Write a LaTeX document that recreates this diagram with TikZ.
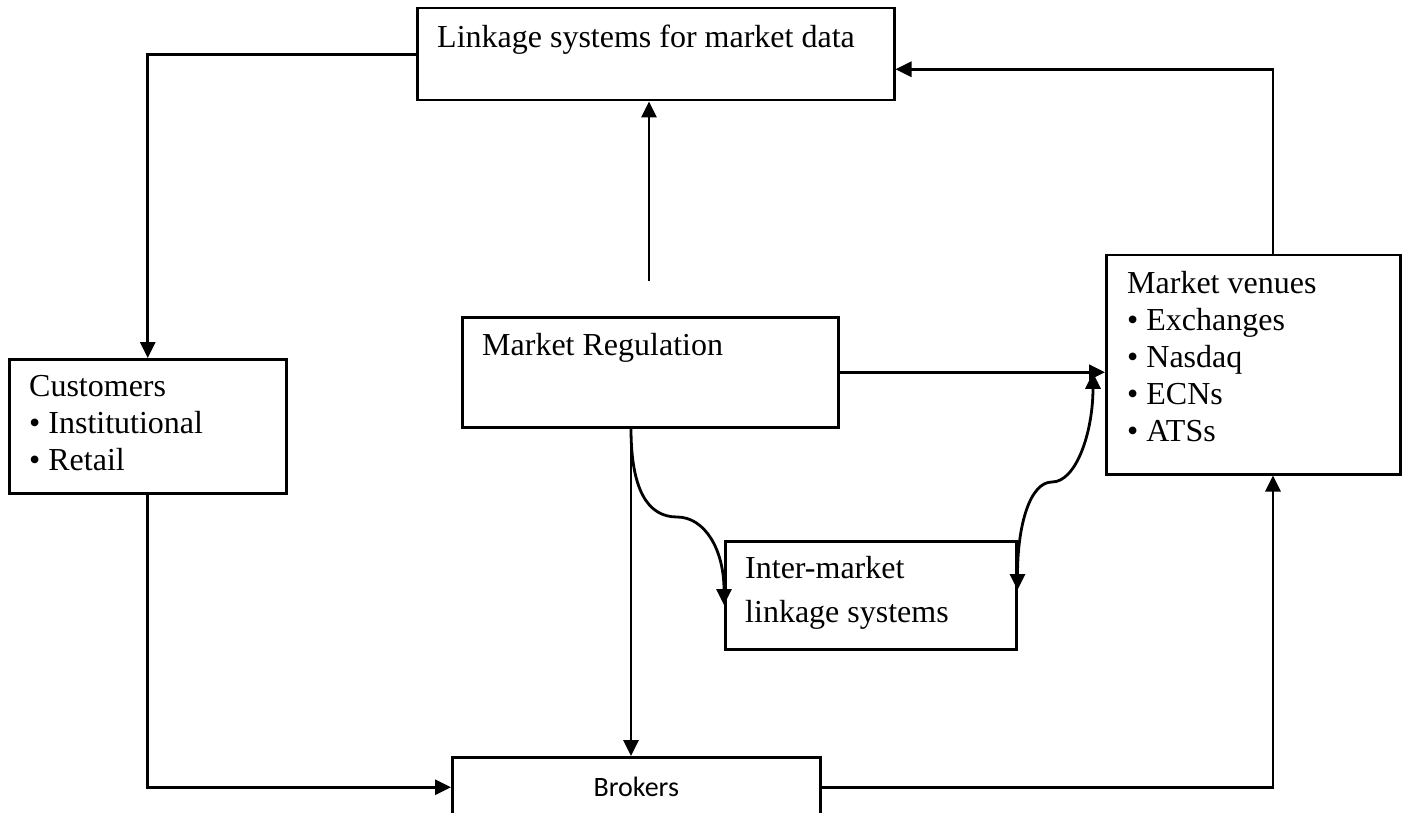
\documentclass[tikz,border=0pt]{standalone}
\usepackage{fontspec}
\setmainfont{Liberation Serif}
\newfontfamily\brokfont{Carlito}
\usetikzlibrary{arrows.meta, positioning, calc}

\begin{document}
\begin{tikzpicture}[x=1pt, y=-1pt, >={Triangle[length=16pt, width=15pt]},
    box/.style={draw, line width=2.5pt, anchor=north west, inner sep=0pt},
    txt/.style={anchor=north west, inner sep=0pt, align=left,
      font=\fontsize{32}{37}\selectfont},
    flow/.style={line width=2.8pt, ->}]
  \useasboundingbox (0,0) rectangle (1406,813);
  \fill[white] (0,0) rectangle (1406,813);

  % boxes
  \node[box, minimum width=477pt, minimum height=92pt] (mdata) at (416,7) {};
  \node[box, minimum width=277pt, minimum height=134pt] (cust) at (8,358) {};
  \node[box, minimum width=376pt, minimum height=110pt] (reg) at (461,316) {};
  \node[box, minimum width=294pt, minimum height=219pt] (venue) at (1105,254) {};
  \node[box, minimum width=291pt, minimum height=108pt] (inter) at (724,540) {};
  \node[box, minimum width=368pt, minimum height=60pt,
    font=\brokfont\fontsize{28}{34}\selectfont] (brok) at (451,756) {Brokers};

  % texts
  \node[txt] (mdatatxt) at (437,25) {Linkage systems for market data};
  \node[txt] (custtxt) at (29,375) {Customers\\• Institutional\\• Retail};
  \node[txt] (regtxt) at (482,333) {Market Regulation};
  \node[txt] (venuetxt) at (1127,271)
    {Market venues\\• Exchanges\\• Nasdaq\\• ECNs\\• ATSs};
  \node[txt, font=\fontsize{32}{44}\selectfont] (intertxt) at (745,556)
    {Inter-market\\linkage systems};

  % connectors
  \coordinate (vtop) at ($(venue.north west)+(168,0)$);
  \coordinate (vbot) at ($(venue.south west)+(168,0)$);
  \coordinate (rdown) at ($(reg.south west)+(170,0)$);
  \coordinate (regup) at ($(reg.north west)+(188,-35)$);
  \coordinate (lbump) at (677,517);
  \coordinate (rbump) at (1052,482);
  \coordinate (rtip) at ($(venue.west)+(-12,8)$);

  \draw[flow] (mdata.west) -| (cust.north);
  \draw[flow] (vtop) |- ($(mdata.east)+(0,15)$);
  \draw[flow] (regup) -- (regup |- mdata.south);
  \draw[flow] (reg.east) -- (reg.east -| venue.west);
  \draw[flow] (rdown) -- (rdown |- brok.north);
  \draw[flow] (cust.south) |- (brok.west);
  \draw[flow] (brok.east) -| (vbot);
  \draw[flow] (rdown) .. controls +(0,60) and +(-30,0) .. (lbump)
    .. controls +(28,0) and +(0,-55) .. ($(inter.north west)+(0,65)$);
  \draw[flow, <->] ($(inter.north east)+(0,50)$) .. controls +(0,-65) and +(-22,0) .. (rbump)
    .. controls +(24,0) and +(0,60) .. (rtip);
\end{tikzpicture}
\end{document}
